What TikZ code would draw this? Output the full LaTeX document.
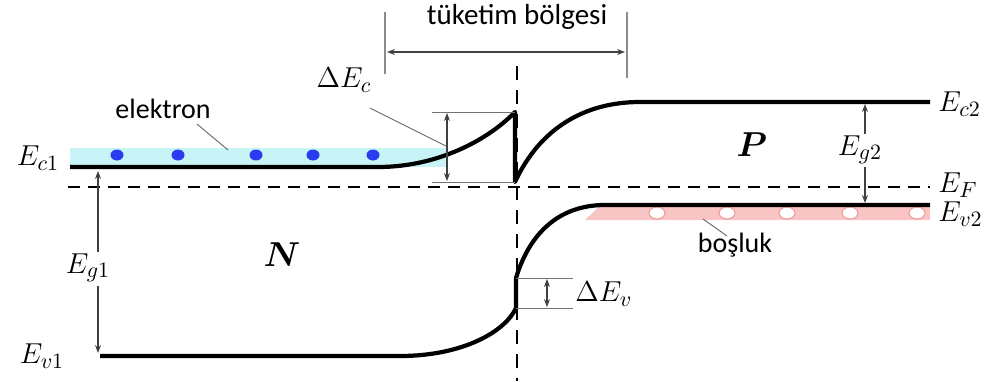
\documentclass[tikz,border=0pt]{standalone}
\usepackage{amsmath}
\usepackage{fontspec}
\newfontfamily\calibri{Carlito}
\usetikzlibrary{arrows.meta}
\definecolor{bandcyan}{HTML}{C8F4F8}
\definecolor{bandpink}{HTML}{F8C4C4}
\definecolor{dotblue}{HTML}{2A3CF0}
\definecolor{holeedge}{HTML}{F0A0A0}
\begin{document}
\begin{tikzpicture}[x=0.5pt,y=-0.5pt,
  band/.style={line width=2.1pt,line join=round},
  fermi/.style={line width=1pt,dash pattern=on 6pt off 4pt},
  junction/.style={line width=0.8pt,dash pattern=on 7pt off 5pt},
  thin/.style={line width=0.5pt,draw=black!55},
  dimarrow/.style={line width=0.55pt,draw=black!75,{Stealth[length=4pt,width=3pt]}-{Stealth[length=4pt,width=3pt]}},
  onearrow/.style={line width=0.55pt,draw=black!75,-{Stealth[length=4pt,width=3pt]}},
  mathlbl/.style={font=\fontsize{15}{17}\selectfont,inner sep=0pt},
  regionlbl/.style={font=\fontsize{16}{18}\selectfont,inner sep=0pt},
  sanslbl/.style={font=\calibri\fontsize{14}{16}\selectfont,inner sep=0pt},
  deplbl/.style={font=\calibri\fontsize{14.5}{16}\selectfont,inner sep=0pt},
  elec/.style={fill=dotblue,draw=none},
  hole/.style={fill=white,draw=holeedge,line width=0.6pt},
  leader/.style={line width=0.45pt,draw=black!60},
  depbar/.style={line width=1.4pt,draw=black!45}
]
\useasboundingbox (0,0) rectangle (992,381);

% coloured bands
\fill[bandcyan] (70,148) rectangle (446,167);
\fill[bandpink] (585,220) -- (600,206) -- (930,206) -- (930,220) -- cycle;

% electrons and holes
\foreach \x in {117,178,256,313,373}
  \fill[elec] (\x,155) ellipse (6.5 and 5.5);
\foreach \x in {657,727,787,850,917}
  \draw[hole] (\x,213) ellipse (8 and 6);

% coordinates
\coordinate (ecA) at (70,167);
\coordinate (ecTop) at (515,112);
\coordinate (ecBot) at (515,182);
\coordinate (ecR) at (930,102);
\coordinate (evA) at (100,356);
\coordinate (evLo) at (516,308);
\coordinate (evHi) at (516,278);
\coordinate (evR) at (930,205);

% conduction band
\draw[band] (ecA) -- (378,167) .. controls (440,167) and (490,138) .. (ecTop) -- (ecBot)
  .. controls (540,128) and (585,102) .. (640,102) -- (ecR);
% valence band
\draw[band] (evA) -- (400,356) .. controls (462,356) and (505,332) .. (evLo) -- (evHi)
  .. controls (530,232) and (560,205) .. (605,205) -- (evR);

% Fermi level
\coordinate (efL) at (68,187);
\coordinate (efR) at (930,187);
\draw[fermi] (efL) -- (efR);

% junction line
\coordinate (jTop) at (517,66);
\coordinate (jBot) at (517,381);
\draw[junction] (jTop) -- (jBot);

% depletion region
\coordinate (dl1) at (385,12);
\coordinate (dl2) at (385,74);
\coordinate (dr1) at (627,12);
\coordinate (dr2) at (627,78);
\draw[depbar] (dl1) -- (dl2);
\draw[depbar] (dr1) -- (dr2);
\coordinate (da) at (387,52);
\coordinate (db) at (625,52);
\draw[dimarrow] (da) -- (db);
\node[deplbl] (dep) at (517,17) {tüketim bölgesi};

% Delta Ec
\coordinate (dc1) at (432,112);
\coordinate (dc2) at (432,182);
\coordinate (dc1r) at (515,112);
\coordinate (dc2r) at (515,182);
\draw[thin] (dc1) -- (dc1r);
\draw[thin] (dc2) -- (dc2r);
\coordinate (dca) at (447,113);
\coordinate (dcb) at (447,181);
\draw[dimarrow] (dca) -- (dcb);
\node[mathlbl] (dEc) at (344,80) {$\Delta E_c$};
\coordinate (dcl1) at (370,108);
\coordinate (dcl2) at (446,146);
\draw[leader] (dcl1) -- (dcl2);

% Delta Ev
\coordinate (dv1) at (516,278);
\coordinate (dv2) at (516,308);
\coordinate (dv1r) at (573,278);
\coordinate (dv2r) at (573,308);
\draw[thin] (dv1) -- (dv1r);
\draw[thin] (dv2) -- (dv2r);
\coordinate (dva) at (547,279);
\coordinate (dvb) at (547,307);
\draw[dimarrow] (dva) -- (dvb);
\node[mathlbl,anchor=west] (dEv) at (575,294) {$\Delta E_v$};

% electron label
\node[sanslbl] (el) at (163,109) {elektron};
\coordinate (ell1) at (197,124);
\coordinate (ell2) at (228,150);
\draw[leader] (ell1) -- (ell2);

% hole label
\node[sanslbl] (bo) at (735,245) {boşluk};
\coordinate (bol1) at (703,219);
\coordinate (bol2) at (727,236);
\draw[leader] (bol1) -- (bol2);

% region labels
\node[regionlbl] (N) at (282,255) {$\boldsymbol{N}$};
\node[regionlbl] (P) at (752,145) {$\boldsymbol{P}$};

% gap labels and arrows
\node[mathlbl] (Eg1) at (88,268) {$E_{g1}$};
\coordinate (eg1t) at (98,171);
\coordinate (eg1b) at (98,353);
\draw[onearrow] (98,252) -- (eg1t);
\draw[onearrow] (98,286) -- (eg1b);

\node[mathlbl] (Eg2) at (860,150) {$E_{g2}$};
\coordinate (eg2t) at (865,104);
\coordinate (eg2b) at (865,203);
\draw[onearrow] (865,134) -- (eg2t);
\draw[onearrow] (865,167) -- (eg2b);

% level labels
\node[mathlbl] (Ec1) at (38,158) {$E_{c1}$};
\node[mathlbl] (Ev1) at (42,356) {$E_{v1}$};
\node[mathlbl,anchor=west] (Ec2) at (938,104) {$E_{c2}$};
\node[mathlbl,anchor=west] (EF) at (938,185) {$E_F$};
\node[mathlbl,anchor=west] (Ev2) at (938,214) {$E_{v2}$};
\end{tikzpicture}
\end{document}
